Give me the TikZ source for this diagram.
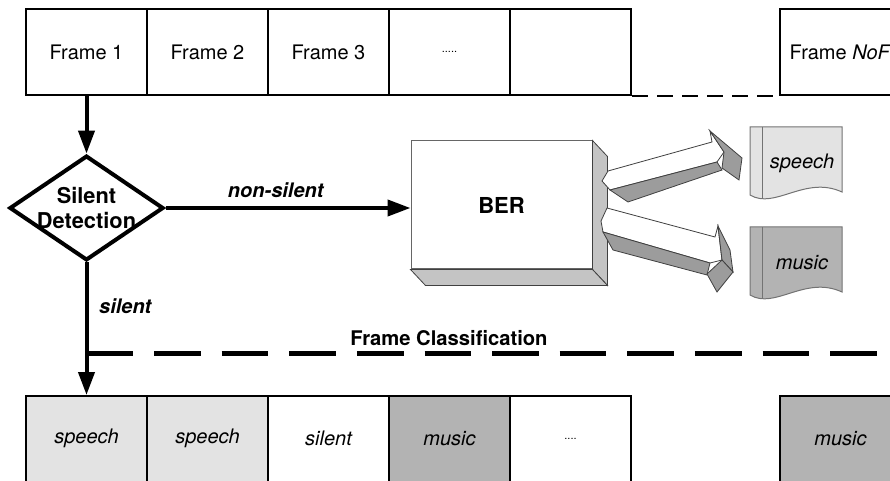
\documentclass[tikz,border=0pt]{standalone}
\usepackage{fontspec}
\setmainfont{TeX Gyre Heros}
\usetikzlibrary{arrows.meta,shapes.geometric,calc}
\definecolor{speechgray}{HTML}{E3E3E3}
\definecolor{musicgray}{HTML}{B3B3B3}
\definecolor{sidegray}{HTML}{C4C4C4}
\definecolor{arrowgray}{HTML}{9C9C9C}
\tikzset{
  cell/.style={draw, line width=1pt, minimum width=60.5pt, minimum height=42.75pt,
    inner sep=0pt, font=\fontsize{10}{12}\selectfont},
  tag/.style={font=\fontsize{10}{12}\selectfont\itshape},
  flow/.style={line width=2pt, -{Triangle[length=11.5pt,width=8pt]}},
  face/.style={draw=black!75, line width=0.4pt},
}
\newcommand{\fivedots}{\upshape\fontsize{5.5}{6}\selectfont .....}
\newcommand{\fourdots}{\upshape\fontsize{5.5}{6}\selectfont ....}
% sheet with a wavy lower edge: name, y shift, fill, label
\newcommand{\docsheet}[4]{
  \begin{scope}[shift={(0,#2)}]
    \filldraw[fill=#3, draw=black!55, line width=0.5pt]
      (750,127) -- (842,127) -- (842,192)
      .. controls (805,175) and (775,210) .. (750,195) -- cycle;
    \draw[black!55, line width=0.5pt] (762,127) -- (762,199);
    \node[tag] (#1) at (802,163) {#4};
  \end{scope}
}

\begin{document}
\begin{tikzpicture}[x=0.5pt,y=-0.5pt]
  \useasboundingbox (0,0) rectangle (890,481);
  \clip (0,0) rectangle (890,481);

  % incoming frames
  \foreach \i/\txt in {1/Frame 1,2/Frame 2,3/Frame 3,4/\fivedots,5/{}}
    \node[cell] (f\i) at (-34.5+121*\i,52.25) {\txt};
  \node[cell] (fN) at (840.5,52.25) {Frame \textit{NoF}};
  \draw[line width=1pt, dash pattern=on 8pt off 4.5pt] (f5.south east) -- (fN.south west);

  % classified frames
  \foreach \i/\txt/\c in {1/speech/speechgray,2/speech/speechgray,3/silent/white,
                          4/music/musicgray,5/\fourdots/white}
    \node[cell, fill=\c, tag] (c\i) at (-34.5+121*\i,438.75) {\txt};
  \node[cell, fill=musicgray, tag] (cN) at (840.5,438.75) {music};
  \draw[line width=1pt, dash pattern=on 8pt off 4.5pt] (c5.south east) -- (cN.south west);

  \node[draw, diamond, shape aspect=1.375, line width=2pt, minimum width=77pt,
    inner xsep=-3pt, inner ysep=0pt, align=center,
    font=\bfseries\fontsize{10.9}{12.5}\selectfont]
    (detect) at (86.5,208) {Silent\\Detection};

  % BER block with its two visible sides
  \node[draw=black!60, line width=0.5pt, fill=white, minimum width=90.5pt,
    minimum height=64pt, font=\bfseries\fontsize{11}{13}\selectfont] (ber) at (501.5,205) {BER};
  \filldraw[face, fill=sidegray] (ber.north east) -- ++(15,16)
    -- ($(ber.south east)+(15,16)$) -- (ber.south east) -- cycle;
  \filldraw[face, fill=sidegray] (ber.south west) -- ($(ber.south west)+(15,16)$)
    -- ($(ber.south east)+(15,16)$) -- (ber.south east) -- cycle;

  % block arrows towards the two classes
  \filldraw[face, fill=white] (608,171) -- (712,142) -- (710,131) -- (724,152)
    -- (717,162) -- (610,190) -- (602,181) -- cycle;
  \filldraw[face, fill=arrowgray] (610,190) -- (717,162) -- (722,170) -- (628,202) -- cycle;
  \filldraw[face, fill=arrowgray] (710,131) -- (742,158) -- (739,180) -- (722,168)
    -- (724,152) -- cycle;
  \filldraw[face, fill=white] (607,208) -- (715,237) -- (718,226) -- (722,260)
    -- (710,263) -- (603,232) -- (601,221) -- cycle;
  \filldraw[face, fill=arrowgray] (603,232) -- (710,263) -- (707,275) -- (613,250) -- cycle;
  \filldraw[face, fill=arrowgray] (718,226) -- (730,250) -- (733,272) -- (722,260) -- cycle;
  \filldraw[face, fill=arrowgray] (707,274) -- (722,260) -- (733,272) -- (717,292) -- cycle;

  \docsheet{docspeech}{0}{speechgray}{speech}
  \docsheet{docmusic}{100}{musicgray}{music}

  \draw[flow] (f1.south) -- (detect.north);
  \draw[flow] (detect.east) -- (detect.east -| ber.west)
    node[pos=0.45, above=1pt, font=\bfseries\itshape\fontsize{10}{12}\selectfont] (nonsil) {non-silent};
  \draw[flow] (detect.south) -- (c1.north)
    node[pos=0.33, right=2pt, font=\bfseries\itshape\fontsize{10}{12}\selectfont] (sil) {silent};

  % classification boundary
  \coordinate (split) at (86.5,353);
  \coordinate (clsend) at (890,353);
  \draw[line width=2.5pt, dash pattern=on 23.3pt off 10.5pt] (split) -- (clsend);
  \node[font=\bfseries\fontsize{10.1}{12}\selectfont] (cls) at (449,338) {Frame Classification};
\end{tikzpicture}
\end{document}
